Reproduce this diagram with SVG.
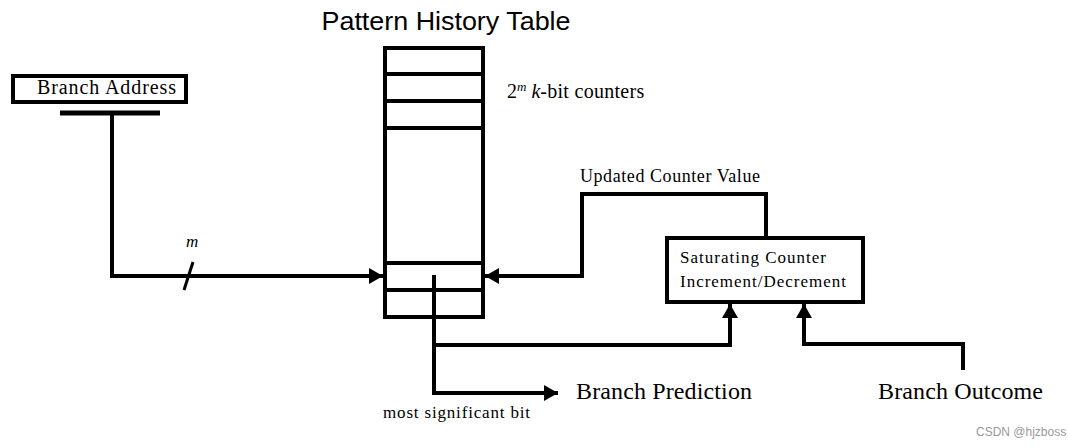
<svg xmlns="http://www.w3.org/2000/svg" width="1068" height="448" viewBox="0 0 1068 448">
<style>
.ln{fill:none;stroke:#000;stroke-width:4}
.s{font-family:"Liberation Serif","Times New Roman",serif;fill:#000}
.a{font-family:"Liberation Sans",Arial,sans-serif}
</style>
<defs>
<marker id="ah" viewBox="0 0 14 16" refX="14" refY="8" markerWidth="14" markerHeight="16" markerUnits="userSpaceOnUse" orient="auto"><path d="M0,0 L14,8 L0,16 Z" fill="#000"/></marker>
</defs>
<rect width="1068" height="448" fill="#fff"/>
<text class="a" x="446" y="30" font-size="26" text-anchor="middle" textLength="249" lengthAdjust="spacingAndGlyphs">Pattern History Table</text>
<g id="branch-address">
<rect class="ln" x="13" y="76" width="173" height="26"/>
<text class="s" x="37" y="94" font-size="20" textLength="139" lengthAdjust="spacing">Branch Address</text>
<line x1="60" y1="113" x2="160" y2="113" stroke="#000" stroke-width="5"/>
</g>
<g id="pht">
<rect class="ln" x="385" y="48" width="98" height="269"/>
<line class="ln" x1="385" y1="74" x2="483" y2="74"/>
<line class="ln" x1="385" y1="101" x2="483" y2="101"/>
<line class="ln" x1="385" y1="128" x2="483" y2="128"/>
<line class="ln" x1="385" y1="263" x2="483" y2="263"/>
<line class="ln" x1="385" y1="290" x2="483" y2="290"/>
<text class="s" x="507" y="98" font-size="20">2<tspan font-size="13" dy="-7" font-style="italic">m</tspan><tspan dy="7"> </tspan><tspan font-style="italic">k</tspan><tspan textLength="104" lengthAdjust="spacing">-bit counters</tspan></text>
</g>
<g id="saturating-counter">
<rect class="ln" x="667" y="238" width="196" height="64"/>
<text class="s" x="680" y="263" font-size="17" textLength="146" lengthAdjust="spacing">Saturating Counter</text>
<text class="s" x="680" y="287" font-size="17" textLength="166" lengthAdjust="spacing">Increment/Decrement</text>
</g>
<g id="connectors">
<polyline class="ln" points="112,113 112,276 383,276" marker-end="url(#ah)"/>
<line x1="184" y1="290" x2="193" y2="262" stroke="#000" stroke-width="3"/>
<polyline class="ln" points="766,238 766,194 582,194 582,276 485,276" marker-end="url(#ah)"/>
<polyline class="ln" points="434,275 434,345 730,345 730,304" marker-end="url(#ah)"/>
<polyline class="ln" points="434,345 434,393 558,393" marker-end="url(#ah)"/>
<polyline class="ln" points="963,370 963,344 804,344 804,304" marker-end="url(#ah)"/>
</g>
<text class="s" x="186" y="247" font-size="17" font-style="italic">m</text>
<text class="s" x="580" y="182" font-size="18" textLength="180" lengthAdjust="spacing">Updated Counter Value</text>
<text class="s" x="576" y="399" font-size="24" textLength="176" lengthAdjust="spacing">Branch Prediction</text>
<text class="s" x="878" y="399" font-size="24" textLength="165" lengthAdjust="spacing">Branch Outcome</text>
<text class="s" x="383" y="418" font-size="17" textLength="147" lengthAdjust="spacing">most significant bit</text>
<text class="a" x="976" y="436" font-size="12" fill="#999">CSDN @hjzboss</text>
</svg>
